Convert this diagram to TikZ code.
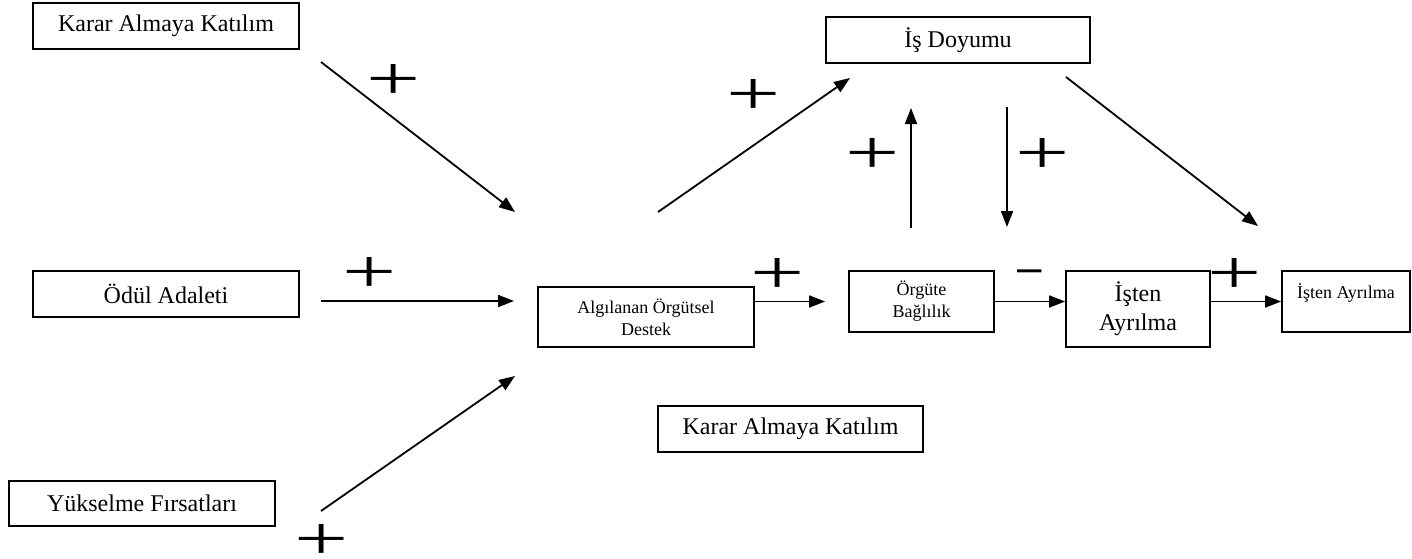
\documentclass[tikz,border=0pt]{standalone}
\usepackage{fontspec}
\usepackage{graphicx}
\setmainfont{Liberation Serif}
\newfontfamily\signfont{Liberation Sans}
\usetikzlibrary{arrows.meta}

\tikzset{
  box/.style={draw, line width=0.9pt, inner sep=1pt, align=center},
  bigtext/.style={font=\fontsize{12}{14.5}\selectfont},
  smalltext/.style={font=\fontsize{9}{11}\selectfont},
  link/.style={-{Triangle[length=8pt,width=6pt]}, line width=0.9pt},
  sign/.style={inner sep=0pt, yshift=-2pt, font=\fontsize{31}{31}\selectfont},
}

\begin{document}
\begin{tikzpicture}[x=0.5pt, y=-0.5pt]
\useasboundingbox (0,0) rectangle (1412,558);

% Draw boxes
\node[box, bigtext, minimum width=133pt, minimum height=23pt] (karar) at (166,26) {Karar Almaya Katılım};
\node[box, bigtext, minimum width=133pt, minimum height=23pt] (odul) at (166,294) {Ödül Adaleti};
\node[box, bigtext, minimum width=133pt, minimum height=22.5pt] (yuksel) at (142,503.5) {Yükselme Fırsatları};
\node[box, bigtext, minimum width=132pt, minimum height=23pt] (doyum) at (958,40) {İş Doyumu};
\node[box, smalltext, minimum width=108pt, minimum height=30pt] (destek) at (646,317) {Algılanan Örgütsel\\Destek};
\node[box, smalltext, minimum width=72.5pt, minimum height=30.5pt] (baglilik) at (921.5,301.5) {Örgüte\\Bağlılık};
\node[box, bigtext, minimum width=72pt, minimum height=38pt] (ayrilma) at (1138,309) {İşten\\Ayrılma};
\node[box, smalltext, minimum width=64pt, minimum height=30.5pt, text depth=10.5pt] (ayrilmab) at (1346,301.5) {İşten Ayrılma};
\node[box, bigtext, minimum width=132.5pt, minimum height=23pt] (karar2) at (790.5,429) {Karar Almaya Katılım};

% Free ends of the arrows
\coordinate (kararout) at (321,62);
\coordinate (kararin) at (515,212);
\coordinate (odulout) at (321,301);
\coordinate (odulin) at (514,301);
\coordinate (yukselout) at (321,511);
\coordinate (yukselin) at (515,376);
\coordinate (destekout) at (658,212);
\coordinate (doyumin) at (850,78);
\coordinate (upout) at (911,228);
\coordinate (upin) at (911,108);
\coordinate (downout) at (1007,107);
\coordinate (downin) at (1007,227);
\coordinate (doyumout) at (1066,77);
\coordinate (rightin) at (1258,226);

% Draw arrows
\draw[link] (kararout) -- (kararin);
\draw[link] (odulout) -- (odulin);
\draw[link] (yukselout) -- (yukselin);
\draw[link] (destekout) -- (doyumin);
\draw[link] (upout) -- (upin);
\draw[link] (downout) -- (downin);
\draw[link] (doyumout) -- (rightin);
\draw[link, shorten >=11.5pt] (destek.east |- baglilik) -- (baglilik.west);
\draw[link] (baglilik.east) -- (baglilik.east -| ayrilma.west);
\draw[link] (ayrilmab.west -| ayrilma.east) -- (ayrilmab.west);

% Draw signs
\foreach \px/\py [count=\i] in {394/78, 370/271, 322/538, 754/93, 873/152, 1043/152, 778/272, 1235/272} {
   \node[sign] (plus\i) at (\px,\py) {\scalebox{1.55}[1]{+}};
}
\node[inner sep=0pt, font=\signfont\fontsize{22}{22}\selectfont] (minus) at (1030,276) {–};

\end{tikzpicture}
\end{document}
